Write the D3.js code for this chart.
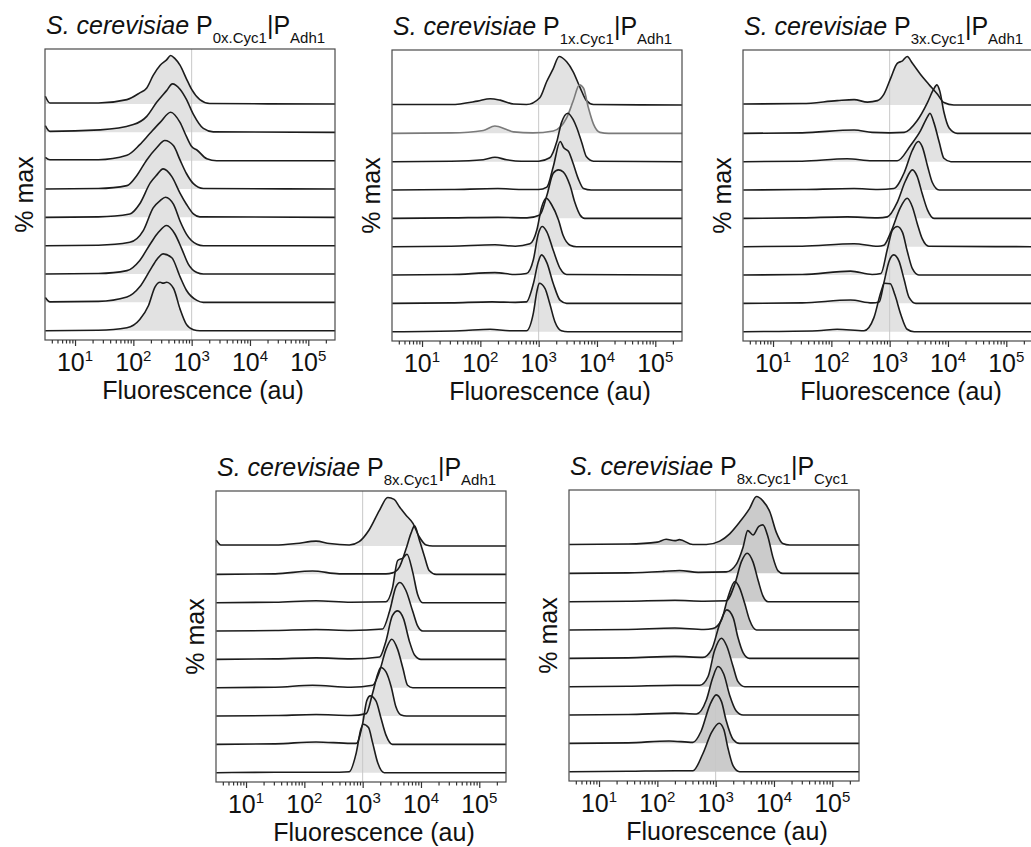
<!DOCTYPE html>
<html>
<head>
<meta charset="utf-8">
<script src="https://cdn.jsdelivr.net/npm/d3@7"></script>
<style>
body { margin: 0; background: #fff; }
svg { font-family: "Liberation Sans", Arial, sans-serif; }
</style>
</head>
<body>
<svg width="1031" height="847"></svg>
<script>
// title parts: S. cerevisiae P<sub>copies</sub>|P<sub>second</sub>
const promoterCopies = ["0x.Cyc1", "1x.Cyc1", "3x.Cyc1", "8x.Cyc1", "8x.Cyc1"];
const secondPromoter = ["Adh1", "Adh1", "Adh1", "Adh1", "Cyc1"];
const decadeExponents = [1, 2, 3, 4, 5];
const yLabel = "% max";
const xLabel = "Fluorescence (au)";

// each histogram: [log10 fluorescence, % of max], top row first
const p0xAdh1 = [
  [[0.49,16],[0.57,2],[1.4,2],[1.89,9],[2.11,23],[2.23,33],[2.34,59],[2.46,80],[2.57,91],[2.64,100],[2.71,94],[2.8,80],[2.91,52],[3.0,30],[3.14,9],[3.31,1],[5.46,0]],
  [[0.49,14],[0.57,2],[1.43,5],[2.0,16],[2.23,33],[2.4,62],[2.57,86],[2.67,100],[2.8,89],[2.91,68],[3.03,37],[3.2,8],[3.37,1],[5.46,0]],
  [[0.49,7],[0.57,2],[1.4,2],[1.89,11],[2.11,33],[2.29,57],[2.46,79],[2.64,100],[2.8,79],[2.91,50],[3.0,29],[3.09,22],[3.26,4],[3.43,0],[5.46,0]],
  [[0.49,0],[1.4,1],[1.89,7],[2.06,28],[2.23,60],[2.4,85],[2.54,100],[2.69,89],[2.8,60],[2.91,32],[3.03,11],[3.2,1],[5.46,0]],
  [[0.49,0],[1.4,1],[1.94,7],[2.11,28],[2.29,71],[2.4,87],[2.51,100],[2.66,84],[2.8,50],[2.91,27],[3.03,7],[3.14,1],[5.46,0]],
  [[0.49,0],[1.4,1],[1.94,7],[2.17,31],[2.34,78],[2.46,93],[2.55,100],[2.69,85],[2.8,51],[2.91,24],[3.09,3],[3.2,0],[5.46,0]],
  [[0.49,0],[1.4,1],[1.89,7],[2.11,28],[2.29,62],[2.43,86],[2.57,100],[2.71,83],[2.83,52],[2.94,21],[3.09,3],[3.2,0],[5.46,0]],
  [[0.49,10],[0.57,1],[1.4,2],[1.89,11],[2.11,32],[2.29,67],[2.4,88],[2.51,100],[2.66,92],[2.8,53],[2.91,25],[3.09,4],[3.2,0],[5.46,0]],
  [[0.49,0],[1.4,1],[1.89,6],[2.11,23],[2.26,52],[2.37,90],[2.46,100],[2.51,98],[2.57,100],[2.69,87],[2.8,45],[2.91,13],[3.03,2],[3.14,0],[5.46,0]]
];
const p1xAdh1 = [
  [[0.49,1],[1.5,1],[1.95,8],[2.17,13],[2.34,10],[2.57,2],[2.79,1],[3.02,15],[3.14,49],[3.25,75],[3.35,100],[3.48,89],[3.59,69],[3.71,36],[3.82,9],[3.94,1],[5.46,0]],
  [[0.49,0],[1.5,1],[2.05,6],[2.25,15],[2.45,8],[2.57,3],[2.9,1],[3.25,5],[3.48,32],[3.59,66],[3.7,100],[3.77,93],[3.85,54],[3.94,19],[4.05,2],[4.2,0],[5.46,0]],
  [[0.49,0],[1.5,1],[2.05,4],[2.25,9],[2.45,4],[2.7,1],[3.0,1],[3.19,8],[3.31,41],[3.39,80],[3.5,100],[3.59,87],[3.65,71],[3.74,39],[3.82,10],[3.94,1],[5.46,0]],
  [[0.49,0],[1.5,1],[2.3,3],[2.7,1],[3.0,1],[3.14,6],[3.25,48],[3.37,100],[3.43,87],[3.51,80],[3.59,55],[3.68,23],[3.77,3],[3.9,0],[5.46,0]],
  [[0.49,0],[1.5,1],[2.3,2],[2.8,1],[3.02,7],[3.14,47],[3.25,93],[3.34,100],[3.42,96],[3.54,67],[3.62,33],[3.71,7],[3.79,0],[5.46,0]],
  [[0.49,0],[1.5,1],[2.25,4],[2.6,1],[2.85,6],[2.97,35],[3.05,81],[3.13,100],[3.22,87],[3.34,55],[3.42,23],[3.54,3],[3.65,0],[5.46,0]],
  [[0.49,0],[1.5,1],[2.25,5],[2.6,1],[2.79,3],[2.91,32],[2.99,83],[3.06,100],[3.14,89],[3.25,51],[3.37,13],[3.48,1],[5.46,0]],
  [[0.49,0],[1.5,1],[2.2,3],[2.6,2],[2.79,3],[2.91,41],[2.99,84],[3.05,100],[3.14,84],[3.25,41],[3.37,6],[3.48,0],[5.46,0]],
  [[0.49,0],[1.65,2],[2.17,5],[2.5,2],[2.79,2],[2.91,39],[2.97,83],[3.01,100],[3.11,89],[3.19,58],[3.28,20],[3.39,2],[3.5,0],[5.46,0]]
];
const p3xAdh1 = [
  [[0.49,2],[1.5,3],[2.1,9],[2.39,11],[2.62,6],[2.79,9],[2.9,22],[3.02,56],[3.13,86],[3.22,91],[3.3,100],[3.39,86],[3.53,63],[3.67,43],[3.82,22],[3.93,5],[4.1,0],[5.46,0]],
  [[0.49,0],[1.5,1],[2.39,7],[2.7,2],[3.0,1],[3.25,2],[3.47,26],[3.65,64],[3.75,90],[3.81,100],[3.86,87],[3.93,44],[4.02,11],[4.16,0],[5.46,0]],
  [[0.49,0],[1.5,1],[2.27,6],[2.7,2],[3.13,2],[3.36,34],[3.53,64],[3.65,93],[3.69,100],[3.76,80],[3.85,40],[3.93,7],[4.05,0],[5.46,0]],
  [[0.49,0],[1.5,1],[2.39,3],[2.8,1],[3.07,3],[3.25,36],[3.39,82],[3.49,100],[3.56,89],[3.65,49],[3.73,16],[3.85,0],[5.46,0]],
  [[0.49,0],[1.5,1],[2.27,3],[2.8,1],[2.96,3],[3.13,33],[3.27,77],[3.39,100],[3.47,87],[3.56,50],[3.65,17],[3.76,0],[5.46,0]],
  [[0.49,0],[1.5,1],[2.39,6],[2.8,1],[2.9,3],[3.02,30],[3.19,82],[3.3,100],[3.39,82],[3.47,49],[3.56,16],[3.67,1],[5.46,0]],
  [[0.49,0],[1.5,1],[2.33,8],[2.7,1],[2.85,3],[2.96,53],[3.05,93],[3.13,100],[3.22,88],[3.3,50],[3.39,13],[3.5,0],[5.46,0]],
  [[0.49,0],[1.5,1],[2.33,7],[2.7,1],[2.82,3],[2.9,42],[2.99,87],[3.07,100],[3.16,87],[3.25,48],[3.33,13],[3.45,0],[5.46,0]],
  [[0.49,0],[1.76,2],[2.1,5],[2.56,2],[2.73,29],[2.85,82],[2.91,100],[3.01,99],[3.09,76],[3.19,36],[3.3,5],[3.42,0],[5.46,0]]
];
const p8xAdh1 = [
  [[0.49,12],[0.57,2],[1.5,2],[1.86,5],[2.2,10],[2.43,5],[2.77,2],[2.94,9],[3.11,33],[3.29,74],[3.43,100],[3.54,96],[3.63,81],[3.74,64],[3.86,47],[3.97,19],[4.09,2],[4.2,0],[5.46,0]],
  [[0.49,0],[1.5,1],[2.14,7],[2.6,1],[3.4,1],[3.51,3],[3.63,15],[3.74,51],[3.83,85],[3.89,100],[3.97,72],[4.06,37],[4.14,8],[4.26,0],[5.46,0]],
  [[0.49,0],[1.5,1],[2.2,4],[2.8,1],[3.4,2],[3.51,30],[3.6,87],[3.69,92],[3.76,100],[3.86,62],[3.94,18],[4.03,0],[5.46,0]],
  [[0.49,0],[1.5,1],[2.2,3],[2.8,1],[3.34,4],[3.46,40],[3.57,91],[3.64,100],[3.74,84],[3.86,40],[3.94,11],[4.03,0],[5.46,0]],
  [[0.49,0],[1.5,1],[2.2,3],[2.8,1],[3.29,5],[3.4,38],[3.51,90],[3.6,100],[3.7,84],[3.8,38],[3.89,9],[4.0,0],[5.46,0]],
  [[0.49,0],[1.5,1],[2.14,5],[2.8,1],[3.17,5],[3.29,34],[3.4,79],[3.5,100],[3.6,79],[3.69,40],[3.77,5],[3.86,0],[5.46,0]],
  [[0.49,0],[1.5,1],[2.2,3],[2.8,1],[3.06,5],[3.17,47],[3.26,87],[3.31,100],[3.4,91],[3.49,60],[3.57,19],[3.66,2],[3.75,0],[5.46,0]],
  [[0.49,0],[1.5,1],[2.2,5],[2.8,2],[2.89,2],[3.0,43],[3.07,90],[3.13,100],[3.23,89],[3.31,56],[3.4,19],[3.51,0],[5.46,0]],
  [[0.49,0],[1.5,1],[2.6,1],[2.77,2],[2.89,41],[2.97,90],[3.01,100],[3.1,93],[3.17,62],[3.26,20],[3.37,0],[5.46,0]]
];
const p8xCyc1 = [
  [[0.49,1],[1.5,2],[2.0,6],[2.15,12],[2.3,9],[2.38,11],[2.61,1],[2.84,1],[3.07,8],[3.24,23],[3.41,47],[3.58,75],[3.7,100],[3.81,91],[3.93,68],[4.04,26],[4.15,3],[4.27,0],[5.46,0]],
  [[0.49,0],[1.5,1],[2.1,4],[2.38,6],[2.7,2],[3.18,3],[3.35,18],[3.47,54],[3.55,88],[3.64,79],[3.74,97],[3.81,100],[3.9,74],[3.98,34],[4.07,5],[4.15,0],[5.46,0]],
  [[0.49,0],[1.5,1],[2.3,3],[2.8,1],[3.18,2],[3.33,37],[3.44,82],[3.54,100],[3.64,82],[3.73,43],[3.81,12],[3.9,0],[5.46,0]],
  [[0.49,0],[1.5,1],[2.3,4],[2.8,1],[2.95,3],[3.1,21],[3.21,67],[3.33,100],[3.41,87],[3.5,54],[3.58,21],[3.7,0],[5.46,0]],
  [[0.49,0],[1.5,1],[2.3,4],[2.78,2],[2.93,18],[3.07,71],[3.19,100],[3.3,84],[3.38,44],[3.47,12],[3.58,0],[5.46,0]],
  [[0.49,0],[1.5,1],[2.3,3],[2.73,3],[2.87,21],[2.98,74],[3.1,100],[3.19,84],[3.3,41],[3.38,11],[3.5,0],[5.46,0]],
  [[0.49,0],[1.5,1],[2.3,4],[2.67,2],[2.84,31],[2.95,77],[3.04,100],[3.14,84],[3.24,41],[3.35,9],[3.47,0],[5.46,0]],
  [[0.49,0],[1.5,1],[2.2,5],[2.61,2],[2.75,25],[2.9,79],[3.01,100],[3.1,86],[3.18,47],[3.3,8],[3.41,0],[5.46,0]],
  [[0.49,0],[1.5,1],[2.3,2],[2.61,2],[2.78,37],[2.93,81],[3.06,100],[3.14,87],[3.21,49],[3.3,12],[3.41,0],[5.46,0]]
];
const panelData = [p0xAdh1, p1xAdh1, p3xAdh1, p8xAdh1, p8xCyc1];

// layout
const W = 290, H = 291;
const panels = [
  {x: 45, y: 49, fill: "#e2e2e2"},
  {x: 392, y: 50, fill: "#e2e2e2", greyRow: 1},
  {x: 743, y: 50, fill: "#e2e2e2"},
  {x: 216, y: 491, fill: "#e2e2e2"},
  {x: 569, y: 490, fill: "#cbcbcb"}
];

const svg = d3.select("svg");
svg.append("rect").attr("width", 1031).attr("height", 847).attr("fill", "#fff");

const x = d3.scaleLog().domain([Math.pow(10, 0.485), Math.pow(10, 5.458)]).range([0, W]);
const row = d3.scalePoint().domain(d3.range(9)).range([55, 281.7]);
const h = d3.scaleLinear().domain([0, 100]).range([0, 48.5]);

// minor + major tick values across the domain
const allTicks = [];
for (let e = 0; e <= 5; e++) {
  for (let m = 1; m <= 9; m++) {
    const v = m * Math.pow(10, e);
    if (v >= x.domain()[0] && v <= x.domain()[1]) allTicks.push(v);
  }
}
function isDecade(v) {
  const l = Math.log10(v);
  return Math.abs(l - Math.round(l)) < 1e-9;
}

panels.forEach(function(p, i) {
  const g = svg.append("g").attr("transform", "translate(" + p.x + "," + p.y + ")");
  const ridges = panelData[i];

  const area = function(r) {
    return d3.area()
      .x(function(d) { return x(Math.pow(10, d[0])); })
      .y0(row(r))
      .y1(function(d) { return row(r) - h(d[1]); })
      .curve(d3.curveMonotoneX);
  };
  const line = function(r) {
    return d3.line()
      .x(function(d) { return x(Math.pow(10, d[0])); })
      .y(function(d) { return row(r) - h(d[1]); })
      .curve(d3.curveMonotoneX);
  };

  // fills first
  g.selectAll("path.fill")
    .data(ridges)
    .enter().append("path")
    .attr("class", "fill")
    .attr("d", function(d, r) { return area(r)(d); })
    .attr("fill", p.fill);

  // reference line at 10^3
  g.append("line")
    .attr("x1", x(1000)).attr("x2", x(1000))
    .attr("y1", 0).attr("y2", H)
    .attr("stroke", "#c8c8c8").attr("stroke-width", 1);

  // outlines
  g.selectAll("path.ridge")
    .data(ridges)
    .enter().append("path")
    .attr("class", "ridge")
    .attr("d", function(d, r) { return line(r)(d); })
    .attr("fill", "none")
    .attr("stroke", function(d, r) { return r === p.greyRow ? "#7a7a7a" : "#1c1c1c"; })
    .attr("stroke-width", 1.6)
    .attr("stroke-linejoin", "round");

  // frame
  g.append("rect")
    .attr("x", 0).attr("y", 0).attr("width", W).attr("height", H)
    .attr("fill", "none").attr("stroke", "#4a4a4a").attr("stroke-width", 1.2);

  // x axis ticks
  const ax = g.append("g")
    .attr("transform", "translate(0," + H + ")")
    .call(d3.axisBottom(x).tickValues(allTicks).tickSize(3).tickSizeOuter(0).tickFormat(""));
  ax.select(".domain").remove();
  ax.selectAll(".tick line")
    .attr("stroke", "#333")
    .attr("stroke-width", 1.2)
    .attr("y2", function(d) { return isDecade(d) ? 6 : 3.5; });

  // decade labels 10^n
  const lab = g.selectAll("text.tl")
    .data(decadeExponents)
    .enter().append("text")
    .attr("class", "tl")
    .attr("x", function(d) { return x(Math.pow(10, d)); })
    .attr("y", H + 31)
    .attr("text-anchor", "middle")
    .attr("font-size", 25)
    .attr("fill", "#111");
  lab.append("tspan").text("10");
  lab.append("tspan").attr("font-size", 15).attr("dy", -10).text(function(d) { return d; });

  // x label
  g.append("text")
    .attr("x", W / 2 + 13)
    .attr("y", H + 59)
    .attr("text-anchor", "middle")
    .attr("font-size", 25)
    .attr("fill", "#111")
    .text(xLabel);

  // y label
  g.append("text")
    .attr("transform", "translate(-12," + (H / 2) + ") rotate(-90)")
    .attr("text-anchor", "middle")
    .attr("font-size", 25)
    .attr("fill", "#111")
    .text(yLabel);

  // title
  const t = g.append("text")
    .attr("x", 1)
    .attr("y", -15)
    .attr("font-size", 25)
    .attr("fill", "#111");
  t.append("tspan").attr("font-style", "italic").text("S. cerevisiae");
  t.append("tspan").text(" P");
  t.append("tspan").attr("font-size", 15).attr("dy", 9).text(promoterCopies[i]);
  t.append("tspan").attr("dy", -9).text("|P");
  t.append("tspan").attr("font-size", 15).attr("dy", 9).text(secondPromoter[i]);
});
</script>
</body>
</html>
